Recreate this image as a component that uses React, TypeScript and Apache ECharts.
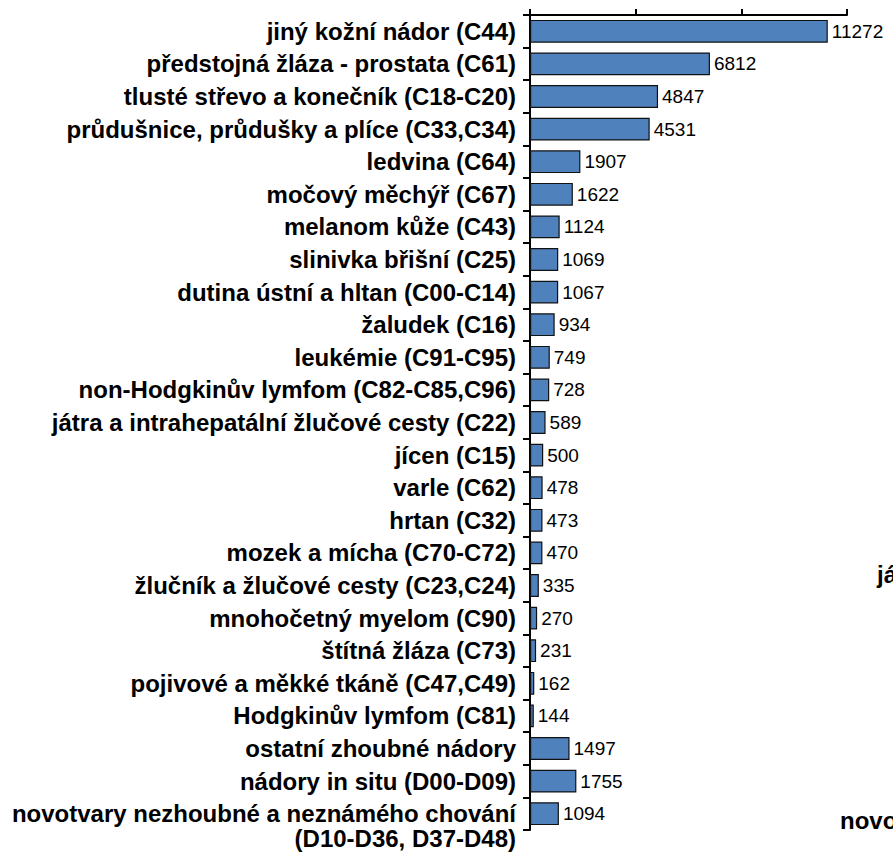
import React, { useEffect, useRef } from "react";
import * as echarts from "echarts";

const categories: string[] = [
  "jiný kožní nádor (C44)",
  "předstojná žláza - prostata (C61)",
  "tlusté střevo a konečník (C18-C20)",
  "průdušnice, průdušky a plíce (C33,C34)",
  "ledvina (C64)",
  "močový měchýř (C67)",
  "melanom kůže (C43)",
  "slinivka břišní (C25)",
  "dutina ústní a hltan (C00-C14)",
  "žaludek (C16)",
  "leukémie (C91-C95)",
  "non-Hodgkinův lymfom (C82-C85,C96)",
  "játra a intrahepatální žlučové cesty (C22)",
  "jícen (C15)",
  "varle (C62)",
  "hrtan (C32)",
  "mozek a mícha (C70-C72)",
  "žlučník a žlučové cesty (C23,C24)",
  "mnohočetný myelom (C90)",
  "štítná žláza (C73)",
  "pojivové a měkké tkáně (C47,C49)",
  "Hodgkinův lymfom (C81)",
  "ostatní zhoubné nádory",
  "nádory in situ (D00-D09)",
  "novotvary nezhoubné a neznámého chování\n(D10-D36, D37-D48)",
];

const values: number[] = [
  11272, 6812, 4847, 4531, 1907, 1622, 1124, 1069, 1067, 934, 749, 728, 589,
  500, 478, 473, 470, 335, 270, 231, 162, 144, 1497, 1755, 1094,
];

const strayTexts: string[] = ["já", "novo"];

const FONT = "'Liberation Sans', Arial, sans-serif";

export default function App() {
  const ref = useRef<HTMLDivElement>(null);
  useEffect(() => {
    if (!ref.current) return;
    const chart = echarts.init(ref.current, null, { renderer: "svg" });
    chart.setOption({
      animation: false,
      backgroundColor: "#ffffff",
      grid: { left: 530, right: 46, top: 15, bottom: 22 },
      xAxis: {
        type: "value",
        position: "top",
        min: 0,
        max: 12000,
        interval: 4000,
        axisLine: { show: true, lineStyle: { color: "#000", width: 2 } },
        axisTick: { show: true, inside: false, length: 6, lineStyle: { color: "#000", width: 2 } },
        axisLabel: { show: false },
        splitLine: { show: false },
      },
      yAxis: {
        type: "category",
        inverse: true,
        data: categories,
        axisLine: { show: true, lineStyle: { color: "#000", width: 2 } },
        axisTick: { show: true, inside: false, length: 7, alignWithLabel: false, lineStyle: { color: "#000", width: 2 } },
        axisLabel: {
          color: "#000",
          fontWeight: "bold",
          fontSize: 24,
          fontFamily: FONT,
          margin: 14,
          interval: 0,
          lineHeight: 25,
          formatter: (v: string) => (v.indexOf("\n") >= 0 ? "\n" + v : v),
        },
      },
      series: [
        {
          type: "bar",
          data: values,
          barCategoryGap: "30%",
          itemStyle: { color: "#4F81BD", borderColor: "#111", borderWidth: 1.2 },
          label: {
            show: true,
            position: "right",
            distance: 4,
            color: "#000",
            fontSize: 19,
            fontFamily: FONT,
          },
        },
      ],
      graphic: [
        {
          type: "text",
          left: 877,
          top: 562,
          style: { text: strayTexts[0], fill: "#000", font: `bold 24px ${FONT}` },
        },
        {
          type: "text",
          left: 840,
          top: 808,
          style: { text: strayTexts[1], fill: "#000", font: `bold 24px ${FONT}` },
        },
      ],
    });
    return () => chart.dispose();
  }, []);
  return (
    <div
      ref={ref}
      style={{ position: "fixed", left: 0, top: 0, width: 893, height: 852 }}
    />
  );
}
